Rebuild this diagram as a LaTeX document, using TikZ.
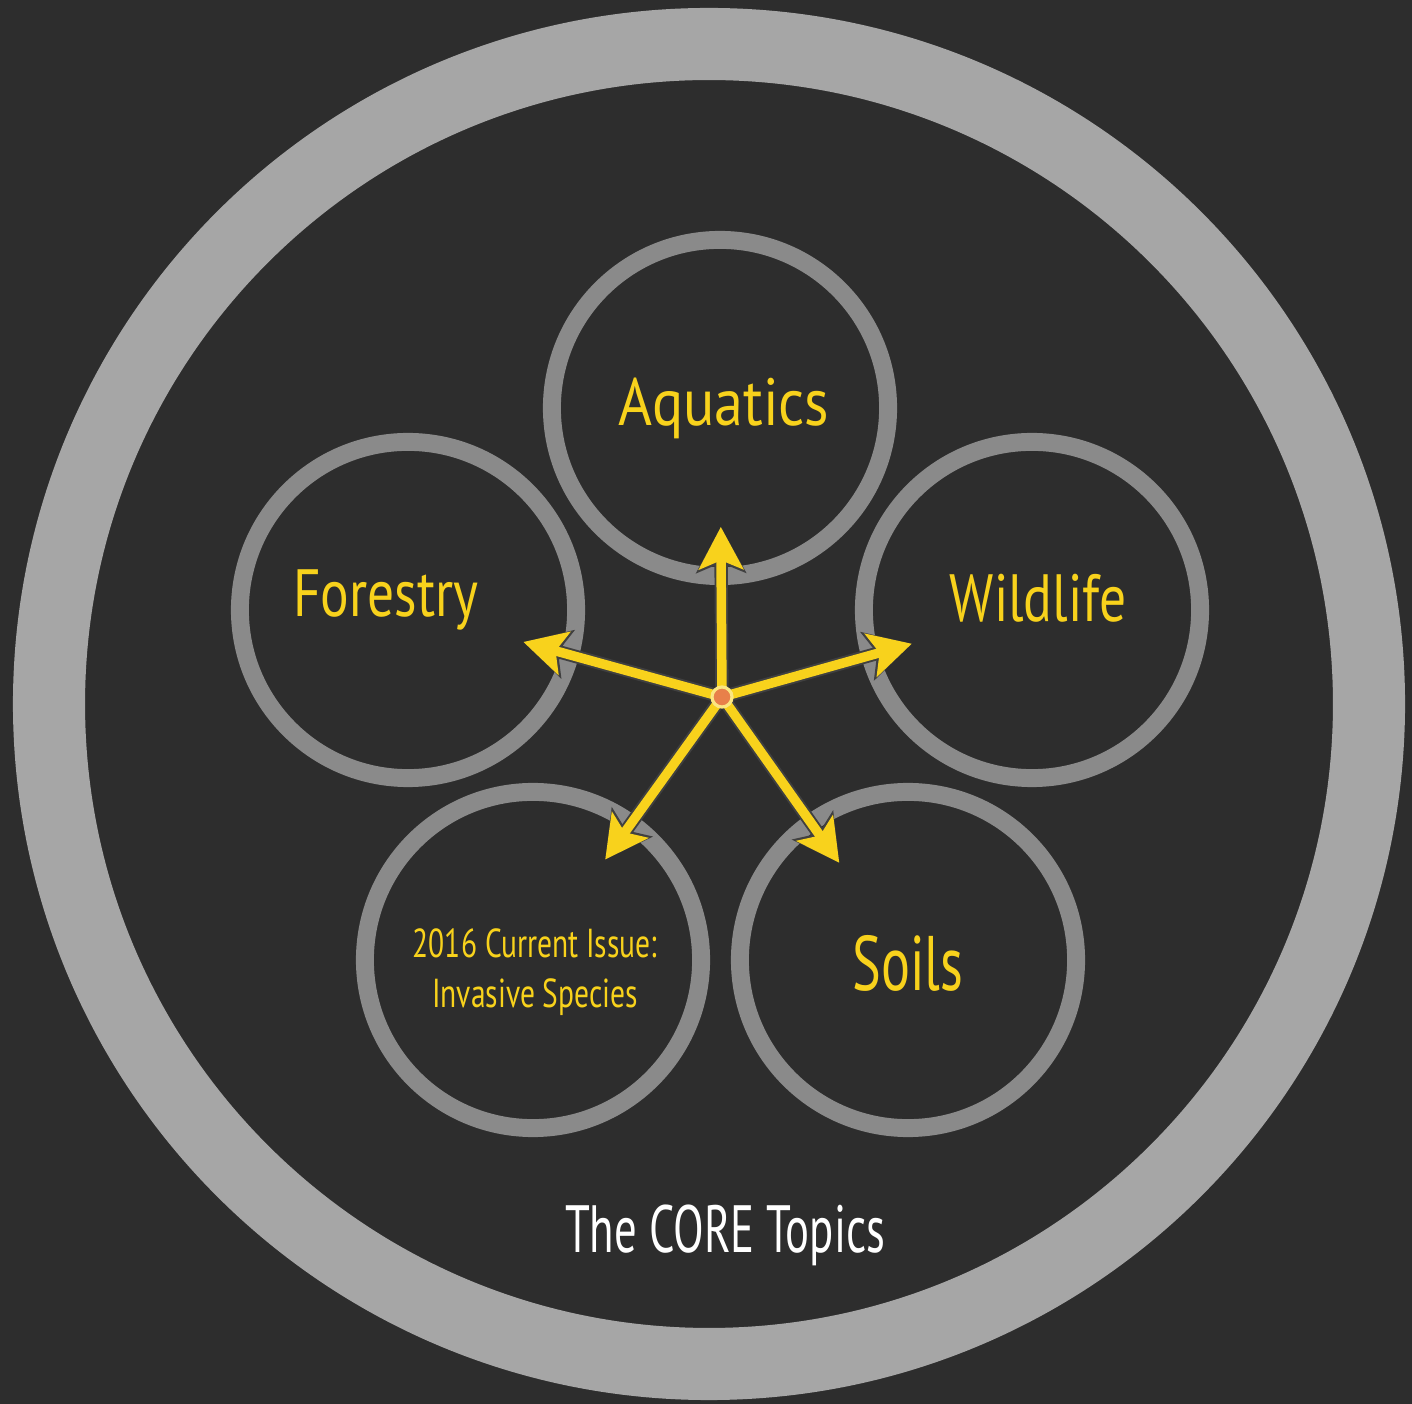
\documentclass[tikz,border=0pt]{standalone}
\usepackage{fontspec}
\newfontfamily\handA[FakeStretch=0.87]{PT Sans}
\newfontfamily\handB[FakeStretch=0.80]{PT Sans}
\newfontfamily\handC[FakeStretch=0.73]{PT Sans}
\newfontfamily\handD[FakeStretch=0.70]{PT Sans}
\newfontfamily\handE[FakeStretch=0.67]{PT Sans}
\usetikzlibrary{calc,arrows.meta}
\definecolor{board}{HTML}{2D2D2D}
\definecolor{ringouter}{HTML}{A6A6A6}
\definecolor{ringinner}{HTML}{8A8A8A}
\definecolor{chalkyellow}{HTML}{F8D21C}
\definecolor{hubcol}{HTML}{E8804A}
\tikzset{
  topic/.style={circle, draw=ringinner, line width=5.1pt, minimum size=3.36cm, inner sep=0pt},
  ttext/.style={text=chalkyellow, align=center, inner sep=0pt},
  spoke/.style={draw=chalkyellow, line width=2.7pt, -{Stealth[length=12pt,width=12.5pt,inset=2.5pt]},
    preaction={draw=black!75, line width=3.8pt, -{Stealth[length=13pt,width=14pt,inset=2.8pt]}}},
  hubdot/.style={circle, fill=hubcol, draw=chalkyellow!55!white, line width=0.9pt, minimum size=0.2cm, inner sep=0pt}
}
\begin{document}
\begin{tikzpicture}[x=0.01cm,y=-0.01cm]
\fill[board] (0,0) rectangle (1412,1404);
\useasboundingbox (0,0) rectangle (1412,1404);
% outer ring
\draw[ringouter, line width=20.5pt] (709,704) circle (660);
% topic circles
\node[topic] (aq) at (720,408) {};
\node[topic] (fo) at (408,610) {};
\node[topic] (wi) at (1032,610) {};
\node[topic] (is) at (533,960) {};
\node[topic] (so) at (908,960) {};
% labels
\node[ttext, font=\handA\fontsize{19}{22}\selectfont] (aqt) at (724,408) {Aquatics};
\node[ttext, font=\handB\fontsize{19}{22}\selectfont] (fot) at (386,600) {Forestry};
\node[ttext, font=\handB\fontsize{19}{22}\selectfont] (wit) at (1038,598) {Wildlife};
\node[ttext, font=\handC\fontsize{11.5}{14.2}\selectfont] (ist) at (535,972) {2016 Current Issue:\\Invasive Species};
\node[ttext, font=\handD\fontsize{22}{26}\selectfont] (sot) at (908,963) {Soils};
\node[text=white, font=\handE\fontsize{19}{22}\selectfont, inner sep=0pt] (core) at (725,1235) {The CORE Topics};
% hub and spokes
\coordinate (hub) at (722,697);
\draw[spoke] (hub) -- ($(hub)!1.70cm!(aq)$);
\draw[spoke] (hub) -- ($(hub)!2.06cm!(fo)$);
\draw[spoke] (hub) -- ($(hub)!1.97cm!(wi)$);
\draw[spoke] (hub) -- ($(hub)!2.00cm!(is)$);
\draw[spoke] (hub) -- ($(hub)!2.03cm!(so)$);
\node[hubdot] (hubn) at (hub) {};
\end{tikzpicture}
\end{document}
